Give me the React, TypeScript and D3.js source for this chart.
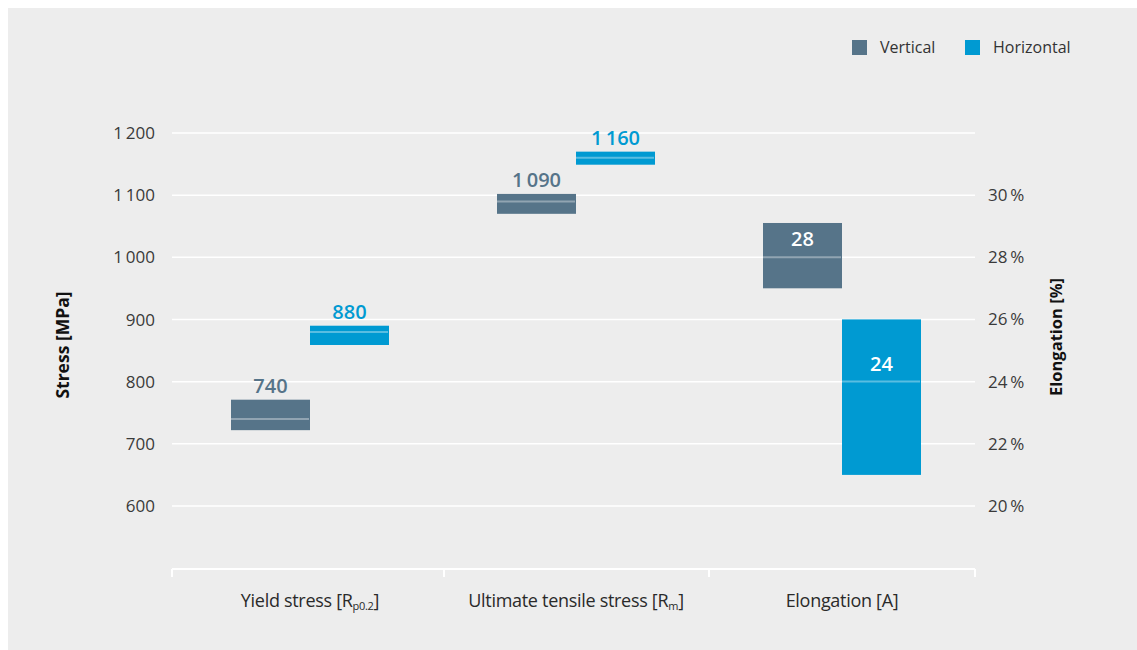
import * as d3 from "d3";
import { useEffect, useRef } from "react";

const categories = ["Yield stress", "Ultimate tensile stress", "Elongation"];
const catSubs = ["p0.2", "m", "A"];
const series = ["Vertical", "Horizontal"];
const seriesColors = ["#567489", "#009ad2"];

// [min, mean, max] per category; stress in MPa, elongation in %
const verticalValues = [
  [722, 740, 771],
  [1070, 1090, 1102],
  [27, 28, 29.1],
];
const horizontalValues = [
  [859, 880, 890],
  [1149, 1160, 1170],
  [21, 24, 26],
];
const valueLabels = [
  ["740", "880"],
  ["1 090", "1 160"],
  ["28", "24"],
];
const stressTicks = [600, 700, 800, 900, 1000, 1100, 1200];
const elongTicks = [20, 22, 24, 26, 28, 30];

export default function App() {
  const svgRef = useRef(null);

  useEffect(() => {
    const W = 1137;
    const H = 650;
    const svg = d3.select(svgRef.current).attr("width", W).attr("height", H);
    svg.selectAll("*").remove();

    svg.append("rect").attr("x", 8).attr("y", 8).attr("width", W - 8).attr("height", H - 8).attr("fill", "#ededed");

    const x0 = 172;
    const x1 = 975;
    const y = d3.scaleLinear().domain([600, 1200]).range([506, 133]);
    const yE = d3.scaleLinear().domain([20, 30]).range([506, 195]);
    const xSub = d3.scaleBand().domain(series).range([-79, 79]);

    const font = "'Open Sans', 'Noto Sans', sans-serif";
    const narrow = "'Liberation Sans Narrow', 'Open Sans', sans-serif";

    // grid
    svg
      .append("g")
      .selectAll("line")
      .data(stressTicks)
      .enter()
      .append("line")
      .attr("x1", x0)
      .attr("x2", x1)
      .attr("y1", (d) => y(d))
      .attr("y2", (d) => y(d))
      .attr("stroke", "#ffffff")
      .attr("stroke-width", 1.5);

    // left ticks
    svg
      .append("g")
      .selectAll("text")
      .data(stressTicks)
      .enter()
      .append("text")
      .attr("x", 155)
      .attr("y", (d) => y(d) + 6)
      .attr("text-anchor", "end")
      .attr("font-family", font)
      .attr("font-size", 17)
      .attr("fill", "#3a3a3a")
      .text((d) => (d >= 1000 ? d3.format(",")(d).replace(",", "\u2009") : String(d)));

    // right ticks
    svg
      .append("g")
      .selectAll("text")
      .data(elongTicks)
      .enter()
      .append("text")
      .attr("x", 988)
      .attr("y", (d) => yE(d) + 6)
      .attr("font-family", font)
      .attr("font-size", 17)
      .attr("fill", "#3a3a3a")
      .text((d) => `${d}\u2009%`);

    // bottom axis
    const axisY = 569;
    svg.append("line").attr("x1", x0).attr("x2", x1).attr("y1", axisY).attr("y2", axisY).attr("stroke", "#fff").attr("stroke-width", 2);
    const bounds = [x0, 444, 709, x1];
    svg
      .append("g")
      .selectAll("line")
      .data(bounds)
      .enter()
      .append("line")
      .attr("x1", (d) => d)
      .attr("x2", (d) => d)
      .attr("y1", axisY)
      .attr("y2", axisY + 8)
      .attr("stroke", "#fff")
      .attr("stroke-width", 2);

    const centers = [310, 576, 842];
    categories.forEach((c, i) => {
      const t = svg
        .append("text")
        .attr("x", centers[i])
        .attr("y", 607)
        .attr("text-anchor", "middle")
        .attr("font-family", narrow)
        .attr("font-size", 18)
        .attr("letter-spacing", -0.3)
        .attr("fill", "#2a2a2a");
      if (i === 2) {
        t.text(`${c} [${catSubs[i]}]`);
      } else {
        t.append("tspan").text(`${c} [R`);
        t.append("tspan").attr("font-size", 11).attr("dy", 3).text(catSubs[i]);
        t.append("tspan").attr("dy", -3).text("]");
      }
    });

    // bars
    const data = [verticalValues, horizontalValues];
    categories.forEach((c, i) => {
      const scale = i === 2 ? yE : y;
      const cx = centers[i];
      series.forEach((s, j) => {
        const [lo, mean, hi] = data[j][i];
        const bx = cx + (xSub(s) as number);
        const bw = xSub.bandwidth();
        svg
          .append("rect")
          .attr("x", bx)
          .attr("y", scale(hi))
          .attr("width", bw)
          .attr("height", scale(lo) - scale(hi))
          .attr("fill", seriesColors[j]);
        svg
          .append("line")
          .attr("x1", bx)
          .attr("x2", bx + bw - 1)
          .attr("y1", scale(mean))
          .attr("y2", scale(mean))
          .attr("stroke", "#ffffff")
          .attr("stroke-opacity", 0.35)
          .attr("stroke-width", 2);
        const inside = i === 2;
        svg
          .append("text")
          .attr("x", bx + bw / 2)
          .attr("y", inside ? scale(mean) - 11 : scale(hi) - 7)
          .attr("text-anchor", "middle")
          .attr("font-family", font)
          .attr("font-weight", 600)
          .attr("font-size", 20)
          .attr("fill", inside ? "#ffffff" : seriesColors[j])
          .text(valueLabels[i][j].replace(" ", "\u2009"));
      });
    });

    // axis titles
    svg
      .append("text")
      .attr("transform", "translate(69,345) rotate(-90)")
      .attr("text-anchor", "middle")
      .attr("font-family", font)
      .attr("font-weight", 700)
      .attr("font-size", 17.5)
      .attr("fill", "#111")
      .text("Stress [MPa]");
    svg
      .append("text")
      .attr("transform", "translate(1062,337) rotate(-90)")
      .attr("text-anchor", "middle")
      .attr("font-family", font)
      .attr("font-weight", 700)
      .attr("font-size", 16.5)
      .attr("fill", "#111")
      .text("Elongation [%]");

    // legend
    const legX = [852, 965];
    series.forEach((s, j) => {
      svg.append("rect").attr("x", legX[j]).attr("y", 40).attr("width", 15).attr("height", 15).attr("fill", seriesColors[j]);
      svg
        .append("text")
        .attr("x", legX[j] + 28)
        .attr("y", 53)
        .attr("font-family", narrow)
        .attr("font-size", 16)
        .attr("fill", "#333")
        .text(s);
    });
  }, []);

  return (
    <div style={{ position: "fixed", left: 0, top: 0 }}>
      <svg ref={svgRef} style={{ display: "block" }}></svg>
    </div>
  );
}
